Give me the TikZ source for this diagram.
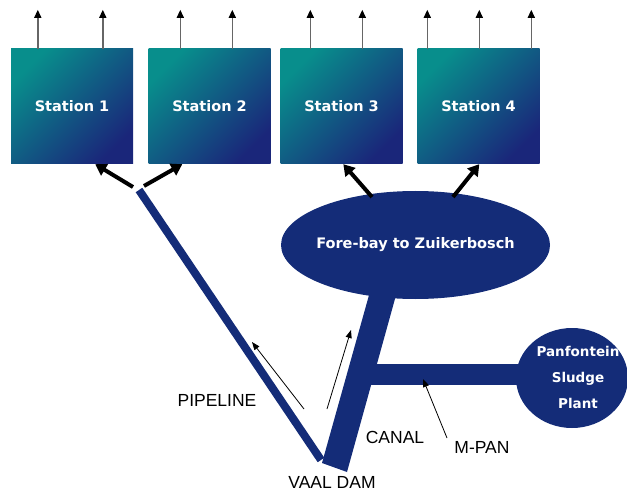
\documentclass[tikz,border=0pt]{standalone}
\usepackage{fontspec}
\setmainfont{Liberation Sans}
\newfontfamily\labfont{DejaVu Sans}
\usetikzlibrary{arrows.meta,shapes.geometric}
\definecolor{navyb}{RGB}{20,44,120}
\definecolor{tealc}{RGB}{8,142,140}
\definecolor{deepb}{RGB}{26,38,122}
\tikzset{
  stationbox/.style={minimum width=122pt,minimum height=115pt,inner sep=0pt,
    top color=tealc,bottom color=deepb,shading angle=45,
    text=white,font=\labfont\bfseries\fontsize{14.5}{15}\selectfont},
  blueblob/.style={ellipse,fill=navyb,inner sep=0pt},
  blobtext/.style={text=white,inner sep=0pt,
    font=\labfont\bfseries\fontsize{14.5}{26}\selectfont,align=center},
  toparrow/.style={draw=gray!80!black,line width=1.4pt,-{Triangle[length=8pt,width=7pt,color=black]}},
  fatarrow/.style={draw=black,line width=4pt,-{Triangle[length=11pt,width=13pt]}},
  thinarrow/.style={draw=black,line width=0.8pt,-{Triangle[length=8pt,width=6pt]}},
  pipe/.style={draw=navyb,line width=8pt},
  plainlabel/.style={font=\fontsize{17.5}{17.5}\selectfont,inner sep=0pt}
}
\begin{document}
\begin{tikzpicture}[x=1pt,y=-1pt]
\useasboundingbox (0,0) rectangle (627,492);
% stations
\node[stationbox] (s1) at (72,106.5) {Station 1};
\node[stationbox] (s2) at (209.5,106.5) {Station 2};
\node[stationbox] (s3) at (341.5,106.5) {Station 3};
\node[stationbox] (s4) at (478.5,106.5) {Station 4};
% top outflow arrows
\foreach \n/\d in {s1/27,s1/92,s2/32,s2/84,s3/30,s3/82,s4/10,s4/62,s4/114}{
  \draw[toparrow] ([xshift=\d]\n.north west) -- ++(0,-39);
}
% canal and M-PAN bar
\coordinate (cbl) at (322,463);
\coordinate (cbr) at (347,472);
\coordinate (ctr) at (398,288);
\coordinate (ctl) at (371,288);
\fill[navyb] (cbl) -- (cbr) -- (ctr) -- (ctl) -- cycle;
\fill[navyb] (365,364) rectangle (540,385);
% pipeline
\coordinate (ptop) at (139,190);
\coordinate (pbot) at (321,460);
\draw[pipe] (ptop) -- (pbot);
% blobs
\node[blueblob,minimum width=269pt,minimum height=108pt] (fb) at (415.5,245) {};
\node[blobtext] (fbtext) at (fb.center) {Fore-bay to Zuikerbosch};
\node[blueblob,minimum width=112pt,minimum height=100pt] (pan) at (572,378) {};
\node[blobtext,font=\labfont\bfseries\fontsize{13.5}{26}\selectfont] (pantext) at ([xshift=6,yshift=1]pan.center) {Panfontein\\Sludge\\Plant};
% thick arrows to stations
\coordinate (pl) at (133,187);
\coordinate (pr) at (144,186);
\draw[fatarrow] (pl) -- ([xshift=-38]s1.south east);
\draw[fatarrow] (pr) -- ([xshift=34]s2.south west);
\coordinate (fl) at (372,197);
\coordinate (fr) at (453,197);
\draw[fatarrow] (fl) -- ([xshift=63]s3.south west);
\draw[fatarrow] (fr) -- ([xshift=62]s4.south west);
% thin flow arrows
\coordinate (a1s) at (304,409); \coordinate (a1e) at (252,342);
\coordinate (a2s) at (327,409); \coordinate (a2e) at (351,330);
\coordinate (a3s) at (447,438); \coordinate (a3e) at (423,379);
\draw[thinarrow] (a1s) -- (a1e);
\draw[thinarrow] (a2s) -- (a2e);
\draw[thinarrow] (a3s) -- (a3e);
% labels
\node[plainlabel] (lpipe) at (217,400) {PIPELINE};
\node[plainlabel] (lcanal) at (395,437) {CANAL};
\node[plainlabel] (lmpan) at (482,447) {M-PAN};
\node[plainlabel] (lvaal) at (332,482) {VAAL DAM};
\end{tikzpicture}
\end{document}
